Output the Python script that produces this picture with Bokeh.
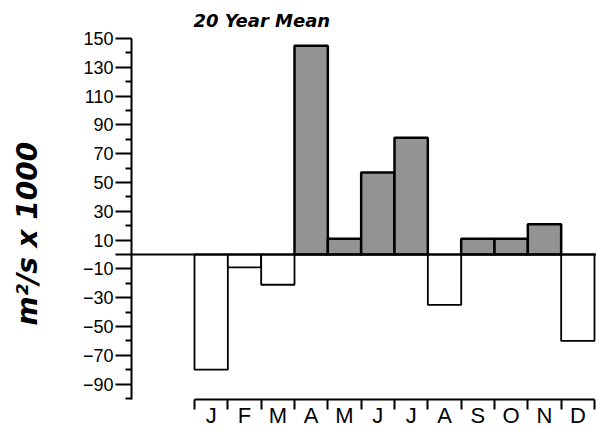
from bokeh.plotting import figure
from bokeh.models import (ColumnDataSource, Range1d, FixedTicker, LinearAxis, Span)
from bokeh.embed import file_html
from bokeh.resources import INLINE

# ---- data ----
months = ["J", "F", "M", "A", "M", "J", "J", "A", "S", "O", "N", "D"]
values = [-80, -9, -21, 145, 11, 57, 81, -35, 11, 11, 21, -60]
y_major_ticks = [150, 130, 110, 90, 70, 50, 30, 10, 0, -10, -30, -50, -70, -90]
y_minor_ticks = [140, 120, 100, 80, 60, 40, 20, -20, -40, -60, -80, -100]
title_text = "20 Year Mean"
y_label = "m\u00b2/s x 1000"

pos_fill = "#939393"
neg_fill = "white"

xs = list(range(len(months)))
source = ColumnDataSource(data=dict(
    x=xs,
    top=values,
    fill=[pos_fill if v > 0 else neg_fill for v in values],
    lw=[2.5 if v > 0 else 1.8 for v in values],
))

p = figure(width=596, height=430, output_backend="svg", toolbar_location=None,
           x_range=Range1d(-2.39, 11.56), y_range=Range1d(-100.7, 150),
           min_border_left=131, min_border_right=0, min_border_top=38,
           min_border_bottom=31, x_axis_location=None, y_axis_location=None)
p.outline_line_color = None
p.xgrid.visible = False
p.ygrid.visible = False
p.background_fill_color = "white"
p.border_fill_color = "white"

# title
p.title.text = title_text
p.title.text_font = "DejaVu Sans"
p.title.text_font_style = "bold italic"
p.title.text_font_size = "18px"
p.title.text_color = "black"
p.title.offset = 62
p.title.standoff = 15

# zero line
p.add_layout(Span(location=0, dimension="width", line_color="black", line_width=2))

p.vbar(x="x", top="top", bottom=0, width=1, source=source,
       fill_color="fill", line_color="black", line_width="lw")

# y axis
yax = LinearAxis(ticker=FixedTicker(ticks=y_major_ticks, minor_ticks=y_minor_ticks))
yax.major_label_overrides = {0: ""}
yax.axis_line_width = 2
yax.major_tick_line_width = 2
yax.minor_tick_line_width = 2
yax.major_tick_out = 16
yax.major_tick_in = 0
yax.minor_tick_out = 6
yax.minor_tick_in = 0
yax.major_label_standoff = 2
yax.major_label_text_font = "Liberation Sans"
yax.major_label_text_font_size = "18px"
yax.major_label_text_color = "black"
yax.axis_label = y_label + "\u00a0\u00a0\u00a0"
yax.axis_label_text_font = "DejaVu Sans"
yax.axis_label_text_font_style = "bold italic"
yax.axis_label_text_font_size = "28px"
yax.axis_label_text_color = "black"
yax.axis_label_standoff = 36
p.add_layout(yax, "left")

# x axis: boundary ticks as minor ticks, month labels at centres
bounds_ticks = [i - 0.5 for i in range(len(months) + 1)]
xax = LinearAxis(ticker=FixedTicker(ticks=xs, minor_ticks=bounds_ticks))
xax.bounds = (-0.5, len(months) - 0.5)
xax.major_label_overrides = {i: m for i, m in enumerate(months)}
xax.axis_line_width = 2
xax.major_tick_out = 0
xax.major_tick_in = 0
xax.minor_tick_out = 10
xax.minor_tick_in = 0
xax.minor_tick_line_width = 2
xax.major_label_standoff = -7
xax.major_label_text_font = "Liberation Sans"
xax.major_label_text_font_size = "22px"
xax.major_label_text_color = "black"
p.add_layout(xax, "below")

open("out.html", "w").write(file_html(p, INLINE))
